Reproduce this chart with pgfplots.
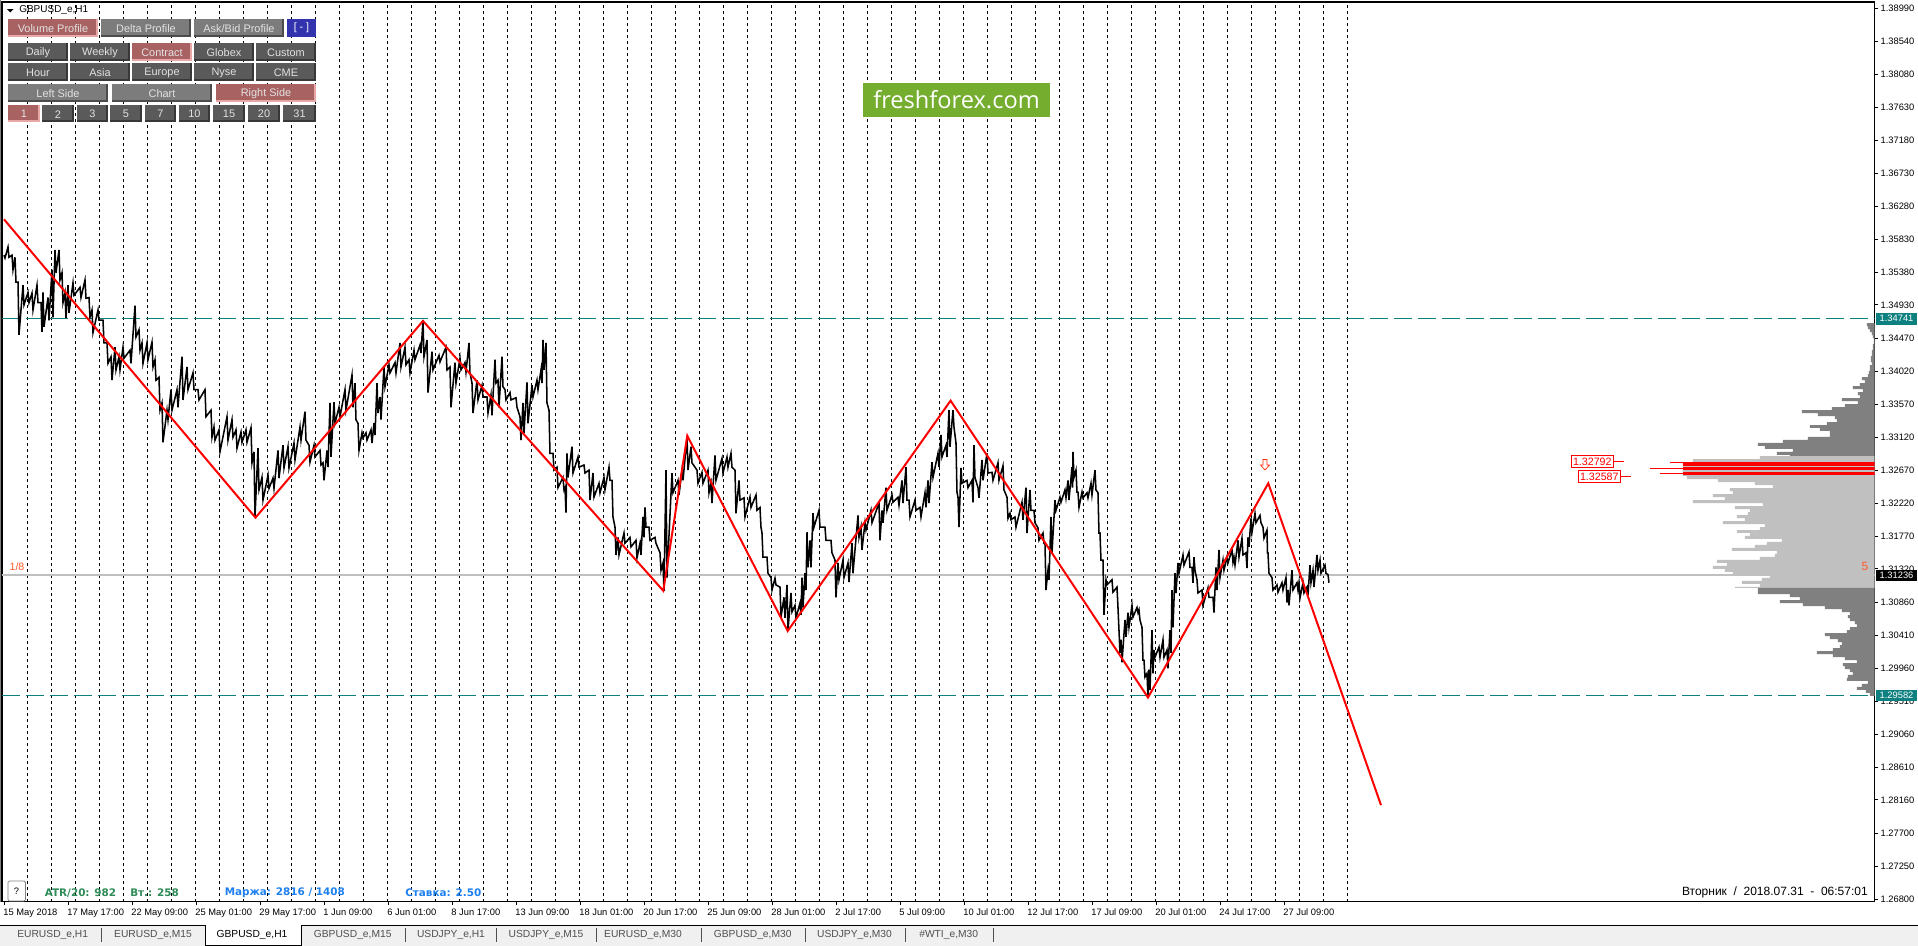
\documentclass[border=0pt]{standalone}
\usepackage{fontspec}
\setmainfont{Liberation Sans}
\newfontfamily\logofont{Open Sans}
\newfontfamily\statfont{DejaVu Sans}
\usepackage{pgfplots}
\pgfplotsset{compat=1.18}
\definecolor{teal1}{HTML}{0F8080}
\definecolor{lvl}{HTML}{C0C0C0}
\definecolor{dg}{HTML}{808080}
\definecolor{btnred}{HTML}{A86262}
\definecolor{btnpink}{HTML}{E8A8A8}
\definecolor{btngray}{HTML}{7C7C7C}
\definecolor{btndark}{HTML}{5A5A5A}
\definecolor{shadeg}{HTML}{4C4C4C}
\definecolor{shaded}{HTML}{383838}
\definecolor{btntxt}{HTML}{E2E2E2}
\definecolor{tabtxt}{HTML}{505050}
\definecolor{orng}{HTML}{FF5A28}
\definecolor{logogreen}{HTML}{75AD2E}
\definecolor{stg}{HTML}{2E8B57}
\definecolor{stb}{HTML}{1E80F0}
\newcommand{\btn}[7]{%
  \fill[#5] (#1,#2) rectangle (#3,#4);
  \draw[#6,line width=1.5pt] (#1,#4-1) -- (#3-1,#4-1) -- (#3-1,#2);
  \node[text=btntxt,inner sep=0pt,font=\fontsize{8.2}{9}\selectfont] at ({(#1+#3)/2},{(#2+#4)/2+0.7}) {#7};
}
\newcommand{\tabl}[2]{\node[text=tabtxt,inner sep=0pt,font=\fontsize{7.7}{9}\selectfont] at (#1,935) {#2};}
\newcommand{\tabs}[1]{\draw[tabtxt,line width=0.6pt] (#1,928) -- (#1,942);}
\begin{document}
\begin{tikzpicture}[x=0.75pt,y=-0.75pt]
\path[use as bounding box,fill=white] (0,0) rectangle (1918,946);
\begin{axis}[
  at={(1.5pt,-676.3pt)},anchor=south west,
  scale only axis,width=1404.5pt,height=674.8pt,
  xmin=2,xmax=1874.7,ymin=1.26767,ymax=1.39072,
  axis line style={black,line width=1.1pt},
  tick align=outside,major tick length=2.25pt,
  xtick pos=bottom,ytick pos=right,
  tick style={black,line width=0.6pt},
  xtick={4.5,68.5,132.5,196.5,260.5,324.5,388.5,452.5,516.5,580.5,644.5,708.5,772.5,836.5,900.5,964.5,1028.5,1092.5,1156.5,1220.5,1284.5},
  xticklabels={15 May 2018,17 May 17:00,22 May 09:00,25 May 01:00,29 May 17:00,1 Jun 09:00,6 Jun 01:00,8 Jun 17:00,13 Jun 09:00,18 Jun 01:00,20 Jun 17:00,25 Jun 09:00,28 Jun 01:00,2 Jul 17:00,5 Jul 09:00,10 Jul 01:00,12 Jul 17:00,17 Jul 09:00,20 Jul 01:00,24 Jul 17:00,27 Jul 09:00},
  xticklabel style={anchor=north west,font=\fontsize{7}{8}\selectfont,inner sep=0pt,xshift=-1pt,yshift=-2.6pt,text height=5pt,text depth=0pt},
  ytick={1.38990,1.38540,1.38080,1.37630,1.37180,1.36730,1.36280,1.35830,1.35380,1.34930,1.34470,1.34020,1.33570,1.33120,1.32670,1.32220,1.31770,1.31320,1.30860,1.30410,1.29960,1.29510,1.29060,1.28610,1.28160,1.27700,1.27250,1.26800},
  yticklabels={1.38990,1.38540,1.38080,1.37630,1.37180,1.36730,1.36280,1.35830,1.35380,1.34930,1.34470,1.34020,1.33570,1.33120,1.32670,1.32220,1.31770,1.31320,1.30860,1.30410,1.29960,1.29510,1.29060,1.28610,1.28160,1.27700,1.27250,1.26800},
  yticklabel style={anchor=west,font=\fontsize{7}{8}\selectfont,inner sep=0pt,xshift=2pt},
  extra x ticks={27.5,51.5,...,1347.5},
  extra x tick labels={},
  extra x tick style={grid=major,major tick length=0pt,major grid style={black,line width=0.72pt,dash pattern=on 2.25pt off 2.25pt}},
]
% volume profile (one step per row)
\addplot[fill=dg,draw=none] coordinates {(1874.7,1.34681)
(1867,1.34681)(1867,1.34640)(1868,1.34640)(1868,1.34599)(1870,1.34599)(1870,1.34558)(1872,1.34558)(1872,1.34517)(1873,1.34517)(1873,1.34476)(1874,1.34476)(1874,1.34394)(1873,1.34394)(1873,1.34312)(1872,1.34312)(1872,1.34230)(1871,1.34230)(1871,1.34148)(1872,1.34148)(1872,1.34107)(1870,1.34107)(1870,1.34025)(1869,1.34025)(1869,1.33984)(1868,1.33984)(1868,1.33943)
(1862,1.33943)(1862,1.33902)(1865,1.33902)(1865,1.33861)(1860,1.33861)(1860,1.33820)(1853,1.33820)(1853,1.33779)(1863,1.33779)(1863,1.33738)(1858,1.33738)(1858,1.33697)(1860,1.33697)(1860,1.33656)(1842,1.33656)(1842,1.33615)(1858,1.33615)(1858,1.33574)(1845,1.33574)(1845,1.33533)(1832,1.33533)(1832,1.33492)(1802,1.33492)(1802,1.33451)(1818,1.33451)(1818,1.33410)(1835,1.33410)(1835,1.33369)(1837,1.33369)(1837,1.33328)(1827,1.33328)(1827,1.33287)(1810,1.33287)(1810,1.33246)(1820,1.33246)(1820,1.33205)(1830,1.33205)(1830,1.33123)(1808,1.33123)(1808,1.33082)(1783,1.33082)(1783,1.33041)(1758,1.33041)(1758,1.33000)(1765,1.33000)(1765,1.32959)(1793,1.32959)(1793,1.32918)(1777,1.32918)(1777,1.32877)(1790,1.32877)(1790,1.32862)(1874.7,1.32862)} --cycle;
\addplot[fill=lvl,draw=none] coordinates {(1874.7,1.32862)
(1760,1.32862)(1760,1.32821)(1693,1.32821)(1693,1.32780)(1683,1.32780)(1683,1.32589)(1687,1.32589)(1687,1.32548)(1718,1.32548)(1718,1.32507)(1755,1.32507)(1755,1.32466)(1773,1.32466)(1773,1.32425)(1730,1.32425)(1730,1.32384)(1733,1.32384)(1733,1.32343)(1713,1.32343)(1713,1.32302)(1725,1.32302)(1725,1.32261)(1693,1.32261)(1693,1.32220)(1763,1.32220)(1763,1.32179)(1735,1.32179)(1735,1.32138)(1750,1.32138)(1750,1.32097)(1748,1.32097)(1748,1.32056)(1737,1.32056)(1737,1.32015)(1745,1.32015)(1745,1.31974)(1723,1.31974)(1723,1.31933)(1765,1.31933)(1765,1.31892)(1760,1.31892)(1760,1.31851)(1737,1.31851)(1737,1.31810)(1750,1.31810)(1750,1.31769)(1745,1.31769)(1745,1.31728)(1782,1.31728)(1782,1.31687)(1767,1.31687)(1767,1.31646)(1755,1.31646)(1755,1.31605)(1732,1.31605)(1732,1.31564)(1777,1.31564)(1777,1.31523)(1775,1.31523)(1775,1.31482)(1760,1.31482)(1760,1.31441)(1717,1.31441)(1717,1.31400)(1727,1.31400)(1727,1.31359)(1713,1.31359)(1713,1.31318)(1725,1.31318)(1725,1.31277)(1733,1.31277)(1733,1.31236)(1770,1.31236)(1770,1.31195)(1762,1.31195)(1762,1.31154)(1742,1.31154)(1742,1.31113)(1760,1.31113)(1760,1.31072)(1735,1.31072)(1735,1.31061)(1874.7,1.31061)} --cycle;
\addplot[fill=dg,draw=none] coordinates {(1874.7,1.31061)
(1758,1.31061)(1758,1.30975)(1790,1.30975)(1790,1.30934)(1800,1.30934)(1800,1.30893)(1780,1.30893)(1780,1.30852)(1803,1.30852)(1803,1.30811)(1825,1.30811)(1825,1.30770)(1842,1.30770)(1842,1.30729)(1850,1.30729)(1850,1.30688)(1848,1.30688)(1848,1.30647)(1850,1.30647)(1850,1.30606)(1855,1.30606)(1855,1.30565)(1857,1.30565)(1857,1.30524)(1850,1.30524)(1850,1.30483)(1847,1.30483)(1847,1.30442)(1825,1.30442)(1825,1.30401)(1830,1.30401)(1830,1.30360)(1838,1.30360)(1838,1.30319)(1842,1.30319)(1842,1.30278)(1840,1.30278)(1840,1.30237)(1833,1.30237)(1833,1.30196)(1817,1.30196)(1817,1.30155)(1833,1.30155)(1833,1.30114)(1845,1.30114)(1845,1.30073)(1857,1.30073)(1857,1.30032)(1843,1.30032)(1843,1.29991)(1845,1.29991)(1845,1.29950)(1850,1.29950)(1850,1.29909)(1853,1.29909)(1853,1.29868)(1848,1.29868)(1848,1.29827)(1847,1.29827)(1847,1.29786)(1868,1.29786)(1868,1.29745)(1862,1.29745)(1862,1.29704)(1857,1.29704)(1857,1.29663)(1866,1.29663)(1866,1.29622)(1870,1.29622)(1870,1.29581)(1874.7,1.29581)} --cycle;
\addplot[fill=red,draw=none] coordinates {(1683,1.32784)(1874.7,1.32784)(1874.7,1.32725)(1683,1.32725)} --cycle;
\addplot[fill=red,draw=none] coordinates {(1683,1.32708)(1874.7,1.32708)(1874.7,1.32671)(1683,1.32671)} --cycle;
\addplot[fill=red,draw=none] coordinates {(1683,1.32650)(1874.7,1.32650)(1874.7,1.32607)(1683,1.32607)} --cycle;
\addplot[red,line width=0.8pt] coordinates {(1670,1.3277)(1690,1.3277)};
\addplot[red,line width=0.8pt] coordinates {(1650,1.3269)(1690,1.3269)};
\addplot[red,line width=0.8pt] coordinates {(1660,1.3263)(1690,1.3263)};
% levels
\addplot[lvl,line width=0.8pt] coordinates {(2,1.31236)(1874.7,1.31236)};
\addplot[teal1,line width=0.8pt,dash pattern=on 13.5pt off 4.5pt] coordinates {(2,1.34741)(1874.7,1.34741)};
\addplot[teal1,line width=0.8pt,dash pattern=on 13.5pt off 4.5pt] coordinates {(2,1.29582)(1874.7,1.29582)};
% price
\addplot[black,line width=1.15pt,line join=miter] coordinates {
(4,1.3561)(5,1.3557)(8,1.3572)(9,1.3558)(12,1.3561)(13,1.3541)(15,1.3558)(16,1.3524)(18,1.3524)(19,1.3452)
(23,1.3520)(24,1.3493)(28,1.3510)(29,1.3496)(32,1.3509)(33,1.3486)(37,1.3520)(38,1.3496)(41,1.3496)(42,1.3456)
(43,1.3510)(44,1.3463)(48,1.3503)(49,1.3472)(52,1.3541)(53,1.3476)(55,1.3568)(56,1.3537)(59,1.3568)(60,1.3527)
(62,1.3537)(63,1.3496)(65,1.3509)(66,1.3475)(68,1.3520)(69,1.3482)(73,1.3523)(74,1.3506)(80,1.3517)(81,1.3503)
(85,1.3527)(86,1.3502)(89,1.3503)(90,1.3476)(92,1.3486)(93,1.3455)(98,1.3486)(99,1.3472)(103,1.3472)(104,1.3441)
(107,1.3441)(108,1.3413)(111,1.3422)(112,1.3390)(115,1.3435)(116,1.3404)(119,1.3422)(120,1.3404)(123,1.3435)(124,1.3420)
(130,1.3431)(131,1.3413)(135,1.3492)(136,1.3449)(139,1.3459)(140,1.3431)(142,1.3441)(143,1.3413)(147,1.3441)(148,1.3418)
(152,1.3442)(153,1.3408)(155,1.3418)(156,1.3390)(159,1.3394)(160,1.3349)(162,1.3359)(163,1.3305)(167,1.3349)(168,1.3336)
(171,1.3377)(172,1.3349)(177,1.3377)(178,1.3353)(182,1.3422)(183,1.3363)(187,1.3408)(188,1.3377)(193,1.3400)(194,1.3377)
(198,1.3377)(199,1.3363)(205,1.3377)(206,1.3340)(211,1.3349)(212,1.3312)(214,1.3326)(215,1.3308)(219,1.3322)(220,1.3292)
(227,1.3340)(228,1.3308)(232,1.3336)(233,1.3312)(236,1.3322)(237,1.3297)(241,1.3319)(242,1.3305)(246,1.3322)(247,1.3305)
(251,1.3325)(252,1.3277)(254,1.3292)(255,1.3203)(258,1.3297)(259,1.3240)(262,1.3257)(263,1.3226)(268,1.3260)(269,1.3242)
(273,1.3256)(274,1.3242)(278,1.3294)(279,1.3256)(283,1.3301)(284,1.3270)(288,1.3299)(289,1.3270)(294,1.3304)(295,1.3281)
(300,1.3326)(301,1.3308)(305,1.3347)(306,1.3308)(309,1.3301)(310,1.3278)(314,1.3301)(315,1.3285)(320,1.3294)(321,1.3274)
(323,1.3277)(324,1.3253)(327,1.3294)(328,1.3271)(330,1.3359)(331,1.3285)(334,1.3360)(335,1.3331)(339,1.3353)(340,1.3340)
(345,1.3377)(346,1.3349)(352,1.3397)(353,1.3353)(355,1.3386)(356,1.3336)(358,1.3331)(359,1.3294)(362,1.3318)(363,1.3311)
(366,1.3318)(367,1.3308)(371,1.3322)(372,1.3304)(374,1.3331)(375,1.3315)(377,1.3386)(378,1.3345)(380,1.3367)(381,1.3336)
(384,1.3408)(385,1.3381)(389,1.3411)(390,1.3400)(395,1.3414)(396,1.3400)(400,1.3441)(401,1.3408)(405,1.3435)(406,1.3411)
(409,1.3418)(410,1.3400)(414,1.3431)(415,1.3418)(420,1.3438)(421,1.3427)(423,1.3472)(424,1.3422)(427,1.3445)(428,1.3373)
(432,1.3429)(433,1.3404)(439,1.3424)(440,1.3415)(446,1.3435)(447,1.3404)(450,1.3408)(451,1.3353)(455,1.3414)(456,1.3386)
(460,1.3420)(461,1.3404)(465,1.3414)(466,1.3401)(469,1.3441)(470,1.3400)(472,1.3386)(473,1.3345)(477,1.3390)(478,1.3363)
(482,1.3383)(483,1.3367)(487,1.3367)(488,1.3345)(491,1.3370)(492,1.3342)(495,1.3418)(496,1.3386)(498,1.3390)(499,1.3353)
(502,1.3422)(503,1.3381)(505,1.3377)(506,1.3363)(510,1.3373)(511,1.3363)(516,1.3366)(517,1.3353)(520,1.3340)(521,1.3308)
(523,1.3359)(524,1.3318)(527,1.3387)(528,1.3331)(532,1.3383)(533,1.3367)(537,1.3390)(538,1.3377)(541,1.3404)(542,1.3386)
(543,1.3445)(544,1.3404)(546,1.3441)(547,1.3359)(549,1.3349)(550,1.3290)(553,1.3290)(554,1.3267)(557,1.3271)(558,1.3243)
(563,1.3257)(564,1.3240)(565,1.3243)(566,1.3209)(567,1.3290)(568,1.3257)(572,1.3299)(573,1.3263)(578,1.3285)(579,1.3271)
(584,1.3274)(585,1.3263)(589,1.3267)(590,1.3226)(593,1.3263)(594,1.3230)(599,1.3249)(600,1.3236)(604,1.3257)(605,1.3240)
(609,1.3271)(610,1.3253)(612,1.3253)(613,1.3203)(615,1.3189)(616,1.3151)(618,1.3175)(619,1.3151)(624,1.3181)(625,1.3167)
(630,1.3175)(631,1.3162)(636,1.3171)(637,1.3147)(640,1.3167)(641,1.3151)(643,1.3203)(644,1.3175)(645,1.3216)(646,1.3189)
(649,1.3189)(650,1.3171)(655,1.3175)(656,1.3167)(660,1.3154)(661,1.3130)(663,1.3140)(664,1.3102)(666,1.3267)(667,1.3120)
(672,1.3263)(673,1.3236)(678,1.3253)(679,1.3233)(682,1.3267)(683,1.3253)(687,1.3312)(688,1.3267)(691,1.3299)(692,1.3277)
(697,1.3267)(698,1.3249)(702,1.3264)(703,1.3249)(708,1.3267)(709,1.3236)(711,1.3249)(712,1.3222)(715,1.3287)(716,1.3253)
(722,1.3283)(723,1.3263)(727,1.3285)(728,1.3271)(731,1.3290)(732,1.3271)(735,1.3267)(736,1.3208)(739,1.3253)(740,1.3226)
(744,1.3229)(745,1.3203)(750,1.3230)(751,1.3216)(756,1.3233)(757,1.3212)(760,1.3216)(761,1.3189)(762,1.3181)(763,1.3148)
(767,1.3148)(768,1.3126)(771,1.3120)(772,1.3103)(775,1.3119)(776,1.3110)(780,1.3107)(781,1.3066)(784,1.3093)(785,1.3065)
(787,1.3110)(788,1.3048)(791,1.3099)(792,1.3073)(795,1.3082)(796,1.3065)(800,1.3085)(801,1.3069)(802,1.3120)(803,1.3079)
(805,1.3126)(806,1.3103)(807,1.3182)(808,1.3134)(810,1.3171)(811,1.3134)(813,1.3208)(814,1.3189)(819,1.3212)(820,1.3189)
(825,1.3189)(826,1.3171)(831,1.3171)(832,1.3154)(835,1.3144)(836,1.3093)(838,1.3140)(839,1.3117)(843,1.3144)(844,1.3120)
(848,1.3140)(849,1.3114)(852,1.3167)(853,1.3126)(858,1.3205)(859,1.3175)(861,1.3189)(862,1.3158)(865,1.3195)(866,1.3185)
(871,1.3212)(872,1.3195)(879,1.3222)(880,1.3171)(882,1.3212)(883,1.3195)(886,1.3243)(887,1.3212)(892,1.3233)(893,1.3223)
(898,1.3230)(899,1.3219)(902,1.3253)(903,1.3222)(906,1.3271)(907,1.3226)(909,1.3226)(910,1.3203)(915,1.3226)(916,1.3212)
(920,1.3216)(921,1.3203)(925,1.3236)(926,1.3216)(928,1.3253)(929,1.3222)(932,1.3278)(933,1.3257)(938,1.3290)(939,1.3271)
(941,1.3315)(942,1.3285)(946,1.3301)(947,1.3285)(949,1.3349)(950,1.3299)(953,1.3349)(954,1.3326)(956,1.3304)(957,1.3237)
(958,1.3230)(959,1.3189)(961,1.3270)(962,1.3249)(967,1.3253)(968,1.3243)(972,1.3253)(973,1.3223)(974,1.3301)(975,1.3257)
(978,1.3243)(979,1.3229)(982,1.3281)(983,1.3253)(987,1.3290)(988,1.3263)(992,1.3264)(993,1.3253)(998,1.3277)(999,1.3253)
(1003,1.3273)(1004,1.3240)(1007,1.3230)(1008,1.3201)(1010,1.3208)(1011,1.3199)(1015,1.3203)(1016,1.3189)(1022,1.3223)(1023,1.3199)
(1026,1.3243)(1027,1.3181)(1030,1.3240)(1031,1.3212)(1034,1.3212)(1035,1.3195)(1038,1.3188)(1039,1.3171)(1043,1.3181)(1044,1.3167)
(1045,1.3167)(1046,1.3103)(1048,1.3130)(1049,1.3117)(1051,1.3203)(1052,1.3154)(1055,1.3226)(1056,1.3212)(1060,1.3230)(1061,1.3223)
(1065,1.3240)(1066,1.3229)(1068,1.3253)(1069,1.3226)(1072,1.3271)(1072.5,1.3243)(1073,1.3292)(1074,1.3257)(1076,1.3267)(1077,1.3237)
(1078,1.3237)(1079,1.3216)(1082,1.3237)(1083,1.3229)(1087,1.3236)(1088,1.3229)(1091,1.3249)(1092,1.3233)(1095,1.3267)(1096,1.3240)
(1098,1.3236)(1099,1.3181)(1100,1.3181)(1101,1.3144)(1103,1.3144)(1104,1.3069)(1106,1.3117)(1107,1.3110)(1112,1.3117)(1113,1.3100)
(1117,1.3107)(1118,1.3079)(1119,1.3048)(1120,1.3017)(1121,1.3035)(1122,1.3004)(1125,1.3062)(1126,1.3039)(1128,1.3072)(1129,1.3052)
(1132,1.3082)(1133,1.3066)(1137,1.3079)(1138,1.3072)(1139,1.3076)(1140,1.3062)(1142,1.3052)(1143,1.3007)(1144,1.3007)(1145,1.2984)
(1147,1.2989)(1148,1.2957)(1149,1.2994)(1150,1.2966)(1152,1.3048)(1153,1.2989)(1154,1.3021)(1155,1.3011)(1159,1.3025)(1160,1.3011)
(1163,1.3035)(1164,1.3011)(1167,1.3021)(1168,1.2996)(1170,1.3048)(1171,1.3017)(1172,1.3103)(1173,1.3052)(1175,1.3126)(1176,1.3099)
(1178,1.3140)(1179,1.3126)(1183,1.3151)(1184,1.3137)(1189,1.3155)(1190,1.3134)(1192,1.3134)(1193,1.3113)(1194,1.3148)(1195,1.3130)
(1197,1.3117)(1198,1.3099)(1202,1.3103)(1203,1.3082)(1208,1.3106)(1209,1.3093)(1213,1.3093)(1214,1.3072)(1216,1.3134)(1217,1.3103)
(1219,1.3158)(1220,1.3120)(1223,1.3144)(1224,1.3130)(1227,1.3148)(1228,1.3140)(1232,1.3158)(1233,1.3141)(1234,1.3148)(1235,1.3137)
(1238,1.3171)(1239,1.3148)(1242,1.3174)(1243,1.3151)(1246,1.3154)(1247,1.3133)(1248,1.3175)(1249,1.3162)(1251,1.3201)(1252,1.3182)
(1255,1.3208)(1256,1.3195)(1260,1.3205)(1261,1.3195)(1263,1.3189)(1264,1.3174)(1267,1.3185)(1267.5,1.3154)(1268,1.3154)(1269,1.3126)
(1272,1.3120)(1273,1.3103)(1277,1.3110)(1278,1.3100)(1282,1.3113)(1283,1.3103)(1286,1.3120)(1287,1.3086)(1288,1.3103)(1289,1.3082)
(1292,1.3130)(1293,1.3103)(1297,1.3113)(1298,1.3103)(1299,1.3113)(1300,1.3092)(1303,1.3113)(1304,1.3099)(1307,1.3107)(1308,1.3096)
(1310,1.3137)(1311,1.3113)(1313,1.3130)(1314,1.3107)(1317,1.3151)(1318,1.3130)(1320,1.3144)(1321,1.3126)(1325,1.3137)(1326,1.3126)
(1328,1.3124)(1329,1.3113)
};
% zigzag
\addplot[red,line width=1.5pt,line join=miter] coordinates {(4,1.3610)(255.5,1.3202)(423,1.3471)(663.3,1.3102)(687.3,1.3314)(787.7,1.3047)(950.6,1.3362)(1148,1.2956)(1268.3,1.3249)(1381,1.28089)};
\end{axis}
% left edge
\fill[dg] (0,0) rectangle (1,902);
% arrow
\draw[red!70!orange,line width=0.5pt,fill=white] (1263,459.5)--(1267,459.5)--(1267,465)--(1269.5,465)--(1265,470)--(1260.5,465)--(1263,465)--cycle;
% y tags
\fill[teal1] (1876,313) rectangle (1917,324.5);
\node[text=white,inner sep=0pt,font=\fontsize{7}{8}\selectfont] at (1896.5,318.7) {1.34741};
\fill[teal1] (1876,690) rectangle (1917,701);
\node[text=white,inner sep=0pt,font=\fontsize{7}{8}\selectfont] at (1896.5,695.5) {1.29582};
\fill[black] (1876,570) rectangle (1917,581);
\node[text=white,inner sep=0pt,font=\fontsize{7}{8}\selectfont] at (1896.5,575.5) {1.31236};
% level labels
\draw[red,fill=white,line width=0.6pt] (1571,455.5) rectangle (1613.7,467.5);
\node[text=red,inner sep=0pt,font=\fontsize{8}{9}\selectfont] at (1592.3,461.5) {1.32792};
\draw[red,line width=0.6pt] (1613.7,461.3)--(1624,461.3);
\draw[red,fill=white,line width=0.6pt] (1578,470.5) rectangle (1620.7,482.3);
\node[text=red,inner sep=0pt,font=\fontsize{8}{9}\selectfont] at (1599.3,476.4) {1.32587};
\draw[red,line width=0.6pt] (1620.7,476.3)--(1631,476.3);
\node[text=orng,inner sep=0pt,font=\fontsize{8}{9}\selectfont] at (17,566.7) {1/8};
\node[text=orng,inner sep=0pt,font=\fontsize{9}{10}\selectfont] at (1865,566.7) {5};
% title and buttons
\fill[black] (7,9)--(13.5,9)--(10.2,12.5)--cycle;
\node[anchor=west,inner sep=0pt,font=\fontsize{7.5}{9}\selectfont] at (19,10.5) {GBPUSD\_e,H1};
\btn{8}{19}{98}{37}{btnred}{btnpink}{Volume Profile}
\btn{101}{19}{191}{37}{btngray}{shadeg}{Delta Profile}
\btn{194}{19}{284}{37}{btngray}{shadeg}{Ask/Bid Profile}
\fill[blue!60!black!80!white] (287,19) rectangle (316,37);
\node[text=white,inner sep=0pt,font=\fontsize{8}{9}\selectfont] at (301.5,28) {[ - ]};
\btn{8}{43}{68}{61}{btndark}{shaded}{Daily}
\btn{70}{43}{130}{61}{btndark}{shaded}{Weekly}
\btn{132}{43}{192}{61}{btnred}{btnpink}{Contract}
\btn{194}{43}{254}{61}{btndark}{shaded}{Globex}
\btn{256}{43}{316}{61}{btndark}{shaded}{Custom}
\btn{8}{63}{68}{81}{btndark}{shaded}{Hour}
\btn{70}{63}{130}{81}{btndark}{shaded}{Asia}
\btn{132}{63}{192}{81}{btndark}{shaded}{Europe}
\btn{194}{63}{254}{81}{btndark}{shaded}{Nyse}
\btn{256}{63}{316}{81}{btndark}{shaded}{CME}
\btn{8}{84}{108}{102}{btngray}{shadeg}{Left Side}
\btn{112}{84}{212}{102}{btngray}{shadeg}{Chart}
\btn{216}{84}{316}{102}{btnred}{btnpink}{Right Side}
\btn{8}{105}{40}{122}{btnred}{btnpink}{1}
\btn{42}{105}{74}{122}{btndark}{shaded}{2}
\btn{77}{105}{108}{122}{btndark}{shaded}{3}
\btn{110}{105}{142}{122}{btndark}{shaded}{5}
\btn{145}{105}{176}{122}{btndark}{shaded}{7}
\btn{179}{105}{210}{122}{btndark}{shaded}{10}
\btn{213}{105}{245}{122}{btndark}{shaded}{15}
\btn{248}{105}{280}{122}{btndark}{shaded}{20}
\btn{283}{105}{316}{122}{btndark}{shaded}{31}
% logo
\fill[logogreen] (863,83) rectangle (1050,117);
\node[text=white,inner sep=0pt,font=\logofont\fontsize{17.7}{20}\selectfont] at (956.5,99.5) {freshforex.com};
% status texts
\draw[dg,fill=white,line width=0.6pt,rounded corners=1pt] (8,881) rectangle (25.4,901);
\node[inner sep=0pt,font=\fontsize{7}{8}\selectfont] at (16.5,891) {?};
\node[anchor=west,text=stg,inner sep=0pt,font=\statfont\bfseries\fontsize{7.8}{9}\selectfont] at (44.6,893) {ATR/20: 982};
\node[anchor=west,text=stg,inner sep=0pt,font=\statfont\bfseries\fontsize{7.8}{9}\selectfont] at (130,893) {Вт.: 258};
\node[anchor=west,text=stb,inner sep=0pt,font=\statfont\bfseries\fontsize{7.8}{9}\selectfont] at (224.5,893) {Маржа: 2816 / 1408};
\node[anchor=west,text=stb,inner sep=0pt,font=\statfont\bfseries\fontsize{7.8}{9}\selectfont] at (405,893) {Ставка: 2.50};
\node[anchor=east,inner sep=0pt,font=\fontsize{9}{10}\selectfont] at (1868,892.7) {Вторник\ \ /\ \ 2018.07.31\ \ -\ \ 06:57:01};
% tabs
\fill[black!6] (0,925) rectangle (1918,946);
\draw[black,line width=0.75pt] (0,925)--(1918,925);
\fill[white] (205,924.5) rectangle (301,945);
\draw[black,line width=0.75pt] (205,925)--(205,945)--(301,945)--(301,925);
\tabl{52.7}{EURUSD\_e,H1}
\tabl{153}{EURUSD\_e,M15}
\node[text=black,inner sep=0pt,font=\fontsize{7.7}{9}\selectfont] at (252,935) {GBPUSD\_e,H1};
\tabl{352.7}{GBPUSD\_e,M15}
\tabl{451}{USDJPY\_e,H1}
\tabl{546}{USDJPY\_e,M15}
\tabl{643}{EURUSD\_e,M30}
\tabl{752.7}{GBPUSD\_e,M30}
\tabl{854.5}{USDJPY\_e,M30}
\tabl{948.7}{\#WTI\_e,M30}
\tabs{101}\tabs{405}\tabs{496}\tabs{596}\tabs{701}\tabs{805}\tabs{905}\tabs{993}
\end{tikzpicture}
\end{document}
